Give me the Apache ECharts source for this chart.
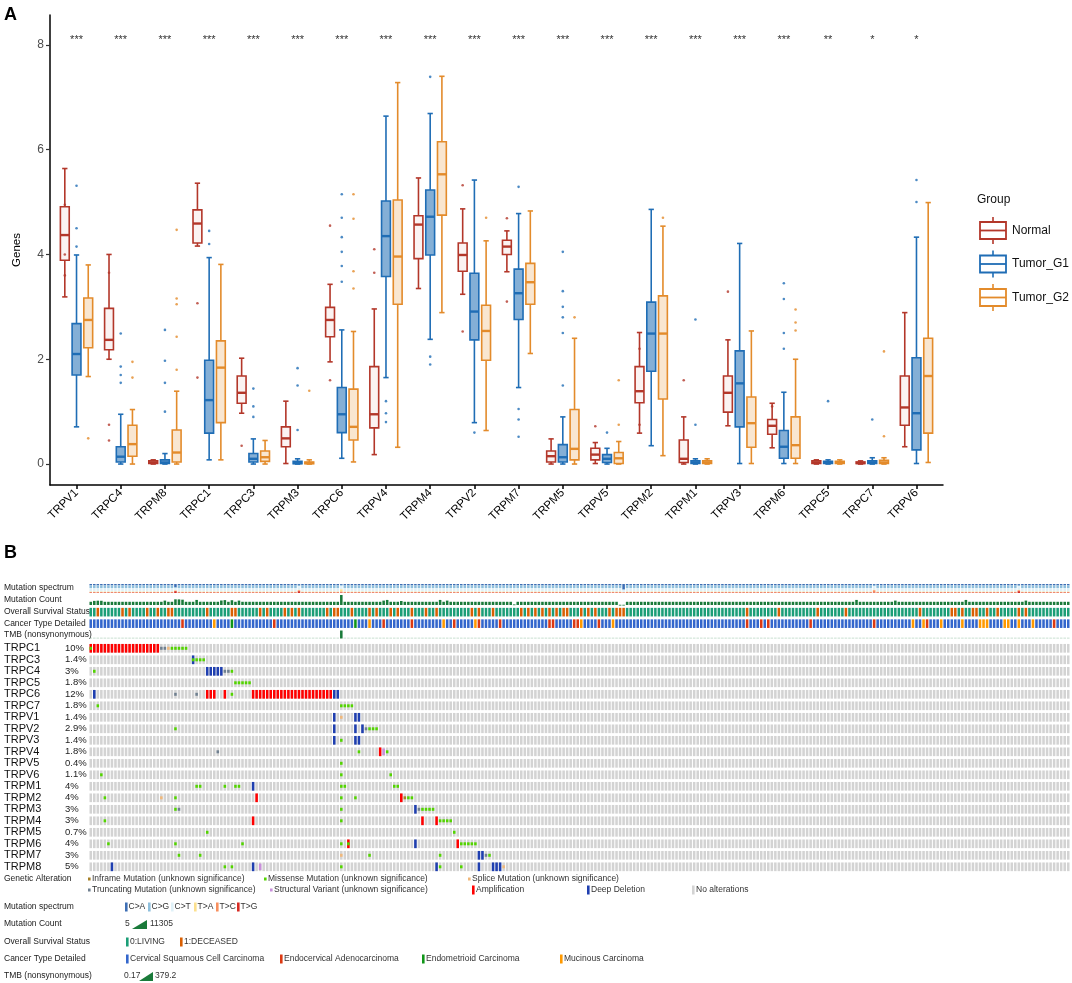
<!DOCTYPE html>
<html>
<head>
<meta charset="utf-8">
<title>TRP channel genes</title>
<script src="https://cdn.jsdelivr.net/npm/echarts@6.0.0/dist/echarts.min.js"></script>
<style>
  html, body { margin: 0; padding: 0; background: #fff; }
  #main { width: 1072px; height: 983px; }
</style>
</head>
<body>
<div id="main"></div>
<script>
// ---- panel A : expression boxes ----
var genes = ['TRPV1','TRPC4','TRPM8','TRPC1','TRPC3','TRPM3','TRPC6','TRPV4','TRPM4','TRPV2',
             'TRPM7','TRPM5','TRPV5','TRPM2','TRPM1','TRPV3','TRPM6','TRPC5','TRPC7','TRPV6'];
var groups = ['Normal', 'Tumor_G1', 'Tumor_G2'];
var yTicks = [0, 2, 4, 6, 8];
var sigLabels = ['***','***','***','***','***','***','***','***','***','***',
                 '***','***','***','***','***','***','***','**','*','*'];

// [min, Q1, median, Q3, max] per gene
var normalBox = [
  [3.19,3.89,4.37,4.91,5.64],[2.00,2.18,2.37,2.97,4.00],[0,0.01,0.03,0.06,0.08],[4.16,4.22,4.59,4.85,5.36],
  [0.97,1.16,1.36,1.68,2.02],[0.01,0.33,0.49,0.71,1.20],[1.95,2.43,2.75,2.99,3.43],[0.18,0.69,0.95,1.86,2.96],
  [3.35,3.92,4.57,4.74,5.46],[3.24,3.68,3.99,4.22,4.87],[3.67,4.00,4.15,4.27,4.45],[0,0.04,0.15,0.25,0.48],
  [0.01,0.08,0.18,0.30,0.41],[0.59,1.17,1.39,1.86,2.51],[0,0.03,0.10,0.46,0.90],[0.73,0.99,1.36,1.68,2.37],
  [0.31,0.57,0.73,0.85,1.16],[0,0.01,0.03,0.06,0.08],[0,0.01,0.02,0.04,0.06],[0.33,0.74,1.08,1.68,2.89]
];
var g1Box = [
  [0.71,1.70,2.10,2.68,3.99],[0,0.04,0.14,0.33,0.95],[0,0.01,0.03,0.08,0.20],[0.08,0.59,1.22,1.98,3.94],
  [0,0.04,0.10,0.20,0.48],[0,0.005,0.02,0.05,0.10],[0.11,0.60,0.95,1.46,2.56],[1.65,3.58,4.35,5.02,6.64],
  [2.38,3.99,4.72,5.23,6.69],[0.79,2.37,2.91,3.64,5.42],[1.46,2.76,3.26,3.72,4.78],[0,0.04,0.13,0.37,0.90],
  [0,0.03,0.10,0.18,0.30],[0.35,1.77,2.49,3.09,4.86],[0,0.01,0.03,0.06,0.10],[0.01,0.71,1.54,2.16,4.21],
  [0.01,0.11,0.33,0.64,1.37],[0,0.01,0.03,0.05,0.08],[0,0.01,0.03,0.06,0.12],[0.01,0.27,0.97,2.03,4.33]
];
var g2Box = [
  [1.67,2.22,2.75,3.17,3.80],[0,0.15,0.38,0.74,1.04],[0,0.04,0.22,0.65,1.39],[0.08,0.79,1.84,2.35,3.81],
  [0,0.05,0.13,0.25,0.45],[0,0.005,0.02,0.04,0.08],[0.04,0.46,0.71,1.43,2.53],[0.32,3.05,3.96,5.04,7.28],
  [2.89,4.75,5.53,6.15,7.40],[0.64,1.98,2.54,3.03,4.26],[2.11,3.05,3.47,3.83,4.83],[0,0.08,0.29,1.04,2.40],
  [0,0.01,0.11,0.22,0.43],[0.16,1.24,2.49,3.21,4.54],[0,0.01,0.03,0.06,0.10],[0.01,0.32,0.78,1.28,2.54],
  [0.01,0.11,0.36,0.90,2.00],[0,0.01,0.03,0.05,0.08],[0,0.01,0.03,0.07,0.12],[0.03,0.59,1.68,2.40,4.99]
];

// single points: [gene index, value]
var normalPts = [[0,4.95],[0,4.0],[0,3.6],[1,3.65],[1,0.75],[1,0.45],[3,3.07],[3,1.65],[4,0.35],[6,4.55],[6,1.6],
  [7,4.1],[7,3.65],[9,5.32],[9,2.53],[10,4.69],[10,3.1],[12,0.72],[13,2.2],[13,0.75],[14,1.6],[15,3.29],[16,1.1]];
var g1Pts = [[0,5.31],[0,4.5],[0,4.15],[1,2.49],[1,1.86],[1,1.7],[1,1.55],[2,2.56],[2,1.97],[2,1.55],[2,1.0],
  [3,4.45],[3,4.2],[4,1.44],[4,1.1],[4,0.9],[5,1.83],[5,1.5],[5,0.65],[6,5.15],[6,4.7],[6,4.33],[6,4.05],
  [6,3.78],[6,3.48],[7,0.97],[7,0.8],[7,1.2],[8,7.39],[8,2.05],[8,1.9],[9,0.6],[10,5.29],[10,0.52],[10,0.85],
  [10,1.05],[11,4.05],[11,3.3],[11,3.0],[11,2.8],[11,2.5],[11,1.5],[12,0.6],[14,2.76],[14,0.75],[16,3.45],
  [16,3.15],[16,2.5],[16,2.2],[17,1.2],[18,0.85],[19,5.42],[19,5.0]];
var g2Pts = [[0,0.49],[1,1.95],[1,1.65],[2,4.47],[2,3.16],[2,3.05],[2,2.43],[2,1.8],[5,1.4],[6,5.15],[6,4.68],
  [6,3.68],[6,3.35],[9,4.7],[11,2.8],[12,1.6],[12,0.75],[13,4.7],[16,2.95],[16,2.7],[16,2.55],[18,2.15],[18,0.53]];

// ---- panel B : oncoprint ----
var sampleCount = 278;
var oncoGenes = ['TRPC1','TRPC3','TRPC4','TRPC5','TRPC6','TRPC7','TRPV1','TRPV2','TRPV3','TRPV4',
                 'TRPV5','TRPV6','TRPM1','TRPM2','TRPM3','TRPM4','TRPM5','TRPM6','TRPM7','TRPM8'];
var oncoPct = ['10%','1.4%','3%','1.8%','12%','1.8%','1.4%','2.9%','1.4%','1.8%',
               '0.4%','1.1%','4%','4%','3%','3%','0.7%','4%','3%','5%'];
// [first sample, last sample, type]  A amp, D deep del, M missense, T truncating, S splice, I inframe, V struct. variant
var oncoAlt = [
  [[0,19,'A'],[0,0,'M'],[20,21,'T'],[22,22,'S'],[23,27,'M']],
  [[29,29,'D'],[29,29,'M'],[30,32,'M']],
  [[1,1,'M'],[33,37,'D'],[38,39,'T'],[40,40,'M']],
  [[41,45,'M']],
  [[1,1,'D'],[24,24,'T'],[30,30,'T'],[33,35,'A'],[38,38,'A'],[40,40,'M'],[46,68,'A'],[69,70,'D']],
  [[2,2,'M'],[71,74,'M']],
  [[69,69,'D'],[71,71,'S'],[75,76,'D']],
  [[24,24,'M'],[69,69,'D'],[75,75,'D'],[77,77,'D'],[78,78,'T'],[79,81,'M']],
  [[69,69,'D'],[71,71,'M'],[75,76,'D']],
  [[36,36,'T'],[76,76,'M'],[82,82,'A'],[83,83,'V'],[84,84,'M']],
  [[71,71,'M']],
  [[3,3,'M'],[71,71,'M'],[85,85,'M']],
  [[30,31,'M'],[38,38,'M'],[41,42,'M'],[46,46,'D'],[71,72,'M'],[86,87,'M']],
  [[4,4,'M'],[20,20,'S'],[24,24,'M'],[47,47,'A'],[71,71,'M'],[75,75,'M'],[88,88,'A'],[89,89,'I'],[90,91,'M']],
  [[24,24,'M'],[25,25,'T'],[71,71,'M'],[92,92,'D'],[93,93,'T'],[94,97,'M']],
  [[4,4,'M'],[46,46,'A'],[71,71,'M'],[94,94,'A'],[98,98,'A'],[99,102,'M']],
  [[33,33,'M'],[103,103,'M']],
  [[5,5,'M'],[24,24,'M'],[43,43,'M'],[71,71,'M'],[73,73,'A'],[73,73,'M'],[92,92,'D'],[104,104,'A'],[105,109,'M']],
  [[25,25,'M'],[31,31,'M'],[71,71,'S'],[79,79,'M'],[99,99,'M'],[110,111,'D'],[112,112,'T'],[113,113,'M']],
  [[6,6,'D'],[38,38,'M'],[40,40,'M'],[46,46,'D'],[48,48,'V'],[71,71,'M'],[98,98,'D'],[99,99,'M'],
   [105,105,'M'],[110,110,'D'],[114,116,'D'],[117,117,'S']]
];
var trackLabels = ['Mutation spectrum','Mutation Count','Overall Survival Status','Cancer Type Detailed','TMB (nonsynonymous)'];
var deceasedCols = [2,9,11,16,19,22,23,33,40,41,48,50,55,57,59,67,69,70,74,79,81,85,87,91,95,98,108,110,114,
  122,124,126,128,130,132,134,135,139,141,143,147,149,150,151,186,195,206,214,235,244,245,247,250,251,254,257,263,265];
var cancerTypes = ['Cervical Squamous Cell Carcinoma','Endocervical Adenocarcinoma','Endometrioid Carcinoma','Mucinous Carcinoma'];
// samples that are not squamous: [sample, cancer type index]
var cancerCols = [[26,1],[35,3],[40,2],[52,1],[75,2],[79,3],[83,1],[91,1],[100,3],[103,1],[109,3],[110,1],[116,1],
  [130,1],[131,1],[137,1],[138,1],[139,3],[144,1],[148,3],[186,1],[190,1],[192,1],[204,1],[222,1],[233,3],[236,3],
  [237,1],[241,3],[247,3],[252,3],[253,3],[254,3],[259,3],[260,3],[263,3],[267,3],[273,1]];
var mutCountDefault = 60;
var mutCountCols = [[1,120],[2,140],[3,130],[21,150],[24,400],[25,380],[26,300],[30,250],[37,160],[38,220],
  [40,200],[42,150],[71,11305],[83,150],[84,250],[88,110],[99,250],[101,150],[120,8],[150,6],[151,6],
  [217,250],[228,150],[248,250],[265,150]];
var tmbDefault = 1.2;
var tmbCols = [[71,379.2],[24,6],[25,6],[26,5],[30,4]];
var spectrumKeys = ['C>A','C>G','C>T','T>A','T>C','T>G'];
var spectrumDefault = [0.15,0.3,0.4,0.04,0.08,0.03];
var spectrumCols = [[24,[0.35,0.1,0.25,0.05,0.05,0.2]],[59,[0.1,0.15,0.4,0.05,0.1,0.2]],
  [71,[0.1,0.1,0.4,0.25,0.1,0.05]],[151,[0.6,0.1,0.2,0.03,0.05,0.02]],[222,[0.1,0.15,0.4,0.05,0.25,0.05]],
  [263,[0.1,0.15,0.4,0.05,0.1,0.2]]];

// ---- colours ----
var groupColors = ['#B3372A', '#1F6DB5', '#E38B2B'];
var groupFill = [0.06, 0.55, 0.22];
var groupOffset = [-0.265, 0, 0.265];
var altColors = {A:'#FF0000', D:'#1F3FB0', M:'#53D400', T:'#708090', S:'#F0B87B', I:'#A68028', V:'#C98FDB'};
var noAltColor = '#D3D3D3';
var osColors = ['#1B9E77', '#D95F02'];
var cancerColors = ['#3366CC', '#DC3912', '#109618', '#FF9900'];
var spectrumColors = ['#3D6EB4','#8EBFDC','#DFF1F8','#FCE08E','#F78F5E','#D62B23'];
var countColor = '#1A7A3A';
var FONT = 'Liberation Sans, Arial, sans-serif';

var chart = echarts.init(document.getElementById('main'));

function boxRender(k) {
  var color = groupColors[k], off = groupOffset[k];
  return function (params, api) {
    var x = api.value(0) + off;
    var pMin = api.coord([x, api.value(1)]);
    var pQ1 = api.coord([x, api.value(2)]);
    var pMed = api.coord([x, api.value(3)]);
    var pQ3 = api.coord([x, api.value(4)]);
    var pMax = api.coord([x, api.value(5)]);
    var bw = api.size([0.2, 0])[0];
    var cw = api.size([0.12, 0])[0];
    var cx = pMed[0];
    var ls = {stroke: color, lineWidth: 1.6, fill: null};
    return {type: 'group', children: [
      {type: 'line', shape: {x1: cx, y1: pMax[1], x2: cx, y2: pQ3[1]}, style: ls},
      {type: 'line', shape: {x1: cx, y1: pQ1[1], x2: cx, y2: pMin[1]}, style: ls},
      {type: 'line', shape: {x1: cx - cw / 2, y1: pMax[1], x2: cx + cw / 2, y2: pMax[1]}, style: ls},
      {type: 'line', shape: {x1: cx - cw / 2, y1: pMin[1], x2: cx + cw / 2, y2: pMin[1]}, style: ls},
      {type: 'rect', shape: {x: cx - bw / 2, y: pQ3[1], width: bw, height: Math.max(pQ1[1] - pQ3[1], 1.5)},
        style: {stroke: color, lineWidth: 1.6, fill: echarts.color.modifyAlpha(color, groupFill[k])}},
      {type: 'line', shape: {x1: cx - bw / 2, y1: pMed[1], x2: cx + bw / 2, y2: pMed[1]}, style: {stroke: color, lineWidth: 2.4}}
    ]};
  };
}

function withIndex(rows) {
  return rows.map(function (s, i) { return [i].concat(s); });
}

var boxSets = [normalBox, g1Box, g2Box];
var ptSets = [normalPts, g1Pts, g2Pts];
var series = [];
groups.forEach(function (g, k) {
  series.push({
    name: g, type: 'custom', xAxisIndex: 0, yAxisIndex: 0,
    data: withIndex(boxSets[k]), renderItem: boxRender(k), z: 3
  });
  series.push({
    name: g + ' points', type: 'scatter', xAxisIndex: 0, yAxisIndex: 0, symbolSize: 2.6,
    itemStyle: {color: groupColors[k]}, z: 4,
    data: ptSets[k].map(function (p) { return [p[0] + groupOffset[k], p[1]]; })
  });
});
series.push({
  name: 'significance', type: 'custom', xAxisIndex: 0, yAxisIndex: 0,
  data: sigLabels.map(function (s, i) { return [i, 8.1]; }),
  renderItem: function (params, api) {
    var p = api.coord([api.value(0), api.value(1)]);
    return {type: 'text', x: p[0], y: p[1],
      style: {text: sigLabels[params.dataIndex], align: 'center', verticalAlign: 'middle', fill: '#333', font: '11px ' + FONT}};
  }
});

// oncoprint helpers
var cellH = 8.7;
function cellRect(api, col, yTop, h, color) {
  var p = api.coord([col, 0]);
  var pitch = api.size([1, 0])[0];
  var w = pitch * 0.72;
  return {type: 'rect', shape: {x: p[0] + (pitch - w) / 2, y: yTop, width: w, height: h}, style: {fill: color}};
}

var cols = [];
for (var c = 0; c < sampleCount; c++) cols.push(c);

function lookup(list, col, dflt) {
  for (var i = 0; i < list.length; i++) if (list[i][0] === col) return list[i][1];
  return dflt;
}

// spectrum
series.push({
  type: 'custom', xAxisIndex: 1, yAxisIndex: 1, silent: true,
  data: cols.map(function (c) { return [c].concat(lookup(spectrumCols, c, spectrumDefault)); }),
  renderItem: function (params, api) {
    var col = api.value(0), cum = 0, kids = [];
    for (var j = 0; j < spectrumKeys.length; j++) {
      var f = api.value(j + 1);
      var y0 = api.coord([col, cum])[1], y1 = api.coord([col, cum + f])[1];
      kids.push(cellRect(api, col, y0, y1 - y0, spectrumColors[j]));
      cum += f;
    }
    return {type: 'group', children: kids};
  }
});
// mutation count (log axis)
series.push({
  type: 'custom', xAxisIndex: 2, yAxisIndex: 2, silent: true,
  data: cols.map(function (c) { return [c, lookup(mutCountCols, c, mutCountDefault)]; }),
  renderItem: function (params, api) {
    var col = api.value(0);
    var top = api.coord([col, api.value(1)])[1], base = api.coord([col, 5])[1];
    return cellRect(api, col, top, Math.max(base - top, 0.8), countColor);
  }
});
// survival + cancer type
var clinData = [];
cols.forEach(function (c) {
  clinData.push([c, 0, deceasedCols.indexOf(c) >= 0 ? 1 : 0]);
  clinData.push([c, 1, lookup(cancerCols, c, 0)]);
});
series.push({
  type: 'custom', xAxisIndex: 3, yAxisIndex: 3, silent: true, data: clinData,
  renderItem: function (params, api) {
    var d = clinData[params.dataIndex];
    var y = api.coord([d[0], d[1]])[1];
    var color = d[1] === 0 ? osColors[d[2]] : cancerColors[d[2]];
    return cellRect(api, d[0], y - 4.3, 8.6, color);
  }
});
// TMB
series.push({
  type: 'custom', xAxisIndex: 4, yAxisIndex: 4, silent: true,
  data: cols.map(function (c) { return [c, lookup(tmbCols, c, tmbDefault)]; }),
  renderItem: function (params, api) {
    var col = api.value(0);
    var top = api.coord([col, api.value(1)])[1], base = api.coord([col, 0])[1];
    var h = base - top;
    var el = cellRect(api, col, Math.min(top, base - 0.8), Math.max(h, 0.8), countColor);
    if (h < 1) el.style.opacity = 0.3;
    return el;
  }
});
// gene rows: grey background, then alterations
series.push({
  type: 'custom', xAxisIndex: 5, yAxisIndex: 5, silent: true,
  data: oncoGenes.map(function (g, r) { return [0, r]; }),
  renderItem: function (params, api) {
    var r = api.value(1), kids = [];
    var y = api.coord([0, r])[1];
    for (var c = 0; c < sampleCount; c++) kids.push(cellRect(api, c, y - cellH / 2, cellH, noAltColor));
    return {type: 'group', children: kids};
  }
});
var altData = [];
oncoAlt.forEach(function (segs, r) {
  segs.forEach(function (s) {
    for (var c = s[0]; c <= s[1]; c++) altData.push([c, r, s[2]]);
  });
});
series.push({
  type: 'custom', xAxisIndex: 5, yAxisIndex: 5, silent: true, data: altData,
  renderItem: function (params, api) {
    var d = altData[params.dataIndex];
    var y = api.coord([d[0], d[1]])[1];
    var code = d[2];
    if (code === 'A' || code === 'D') return cellRect(api, d[0], y - cellH / 2, cellH, altColors[code]);
    if (code === 'V') return cellRect(api, d[0], y - 3.2, 6.4, altColors[code]);
    return cellRect(api, d[0], y - 1.5, 3, altColors[code]);
  }
});

// ---- graphic: panel letters, legends, track labels ----
var graphic = [];
function txt(x, y, s, size, color, weight) {
  graphic.push({type: 'text', x: x, y: y, silent: true,
    style: {text: s, fill: color || '#222', font: (weight || 'normal') + ' ' + size + 'px ' + FONT, verticalAlign: 'middle'}});
}
function box(x, y, w, h, color) {
  graphic.push({type: 'rect', silent: true, shape: {x: x, y: y, width: w, height: h}, style: {fill: color}});
}
txt(4, 15, 'A', 18, '#000', 'bold');
txt(4, 553, 'B', 18, '#000', 'bold');

// group legend (panel A)
txt(977, 200, 'Group', 12, '#111');
groups.forEach(function (g, k) {
  var cy = 230.5 + k * 33.5, col = groupColors[k];
  graphic.push({type: 'line', silent: true, shape: {x1: 993, y1: cy - 13.5, x2: 993, y2: cy + 13.5}, style: {stroke: col, lineWidth: 1.6}});
  graphic.push({type: 'rect', silent: true, shape: {x: 980, y: cy - 8.5, width: 26, height: 17}, style: {fill: '#fff', stroke: col, lineWidth: 1.8}});
  graphic.push({type: 'line', silent: true, shape: {x1: 980, y1: cy, x2: 1006, y2: cy}, style: {stroke: col, lineWidth: 1.8}});
  txt(1012, cy, g, 12, '#111');
});

// track labels
var trackY = [588, 600, 611.8, 623.3, 634.7];
trackLabels.forEach(function (s, i) { txt(4, trackY[i], s, 8.5, '#222'); });

// genetic alteration legend
var altLegend = [
  ['Inframe Mutation (unknown significance)', 'I', 88, 879], ['Missense Mutation (unknown significance)', 'M', 264, 879],
  ['Splice Mutation (unknown significance)', 'S', 468, 879], ['Truncating Mutation (unknown significance)', 'T', 88, 890],
  ['Structural Variant (unknown significance)', 'V', 270, 890], ['Amplification', 'A', 472, 890],
  ['Deep Deletion', 'D', 587, 890], ['No alterations', 'N', 692, 890]
];
txt(4, 879, 'Genetic Alteration', 8.5);
altLegend.forEach(function (a) {
  var x = a[2], y = a[3], code = a[1];
  if (code === 'A' || code === 'D') box(x, y - 4.5, 2.6, 9, altColors[code]);
  else if (code === 'N') box(x, y - 4.5, 2.6, 9, noAltColor);
  else {
    box(x, y - 4.5, 2.6, 9, '#ffffff');
    box(x, y - 1.5, 2.6, 3, altColors[code]);
  }
  txt(x + 4, y, a[0], 8.5, '#333');
});

txt(4, 907, 'Mutation spectrum', 8.5);
var specX = [125, 148, 171, 194, 216, 237];
spectrumKeys.forEach(function (s, i) {
  box(specX[i], 902.5, 2.6, 9, spectrumColors[i]);
  txt(specX[i] + 3.5, 907, s, 8.5, '#333');
});

txt(4, 924, 'Mutation Count', 8.5);
txt(125, 924, '5', 8.5, '#333');
graphic.push({type: 'polygon', silent: true, shape: {points: [[132, 929], [147, 929], [147, 920]]}, style: {fill: countColor}});
txt(150, 924, '11305', 8.5, '#333');

txt(4, 942, 'Overall Survival Status', 8.5);
var osLabels = ['0:LIVING', '1:DECEASED'];
var osX = [126, 180];
osLabels.forEach(function (s, i) {
  box(osX[i], 937.5, 2.6, 9, osColors[i]);
  txt(osX[i] + 4, 942, s, 8.5, '#333');
});

txt(4, 959, 'Cancer Type Detailed', 8.5);
var ctX = [126, 280, 422, 560];
cancerTypes.forEach(function (s, i) {
  box(ctX[i], 954.5, 2.6, 9, cancerColors[i]);
  txt(ctX[i] + 4, 959, s, 8.5, '#333');
});

txt(4, 976, 'TMB (nonsynonymous)', 8.5);
txt(124, 976, '0.17', 8.5, '#333');
graphic.push({type: 'polygon', silent: true, shape: {points: [[139, 981], [153, 981], [153, 972]]}, style: {fill: countColor}});
txt(155, 976, '379.2', 8.5, '#333');

function hiddenX(k) { return {gridIndex: k, type: 'value', min: 0, max: sampleCount, show: false}; }

var option = {
  backgroundColor: '#fff',
  animation: false,
  textStyle: {fontFamily: FONT},
  grid: [
    {left: 50, top: 15, width: 893, height: 470},
    {left: 89, top: 584, width: 981, height: 9},
    {left: 89, top: 595, width: 981, height: 10},
    {left: 89, top: 606.4, width: 981, height: 23},
    {left: 89, top: 630.5, width: 981, height: 8},
    {left: 89, top: 642.55, width: 981, height: 230}
  ],
  xAxis: [
    {
      gridIndex: 0, type: 'value', min: -0.6, max: 19.6,
      axisLine: {onZero: false, lineStyle: {color: '#000', width: 1.5}},
      axisTick: {customValues: genes.map(function (g, i) { return i; }), length: 4, lineStyle: {color: '#000', width: 1.5}},
      axisLabel: {customValues: genes.map(function (g, i) { return i; }),
        formatter: function (v) { return genes[Math.round(v)]; },
        rotate: 45, fontSize: 11.5, color: '#000', margin: 6},
      splitLine: {show: false}
    },
    hiddenX(1), hiddenX(2), hiddenX(3), hiddenX(4), hiddenX(5)
  ],
  yAxis: [
    {
      gridIndex: 0, type: 'value', min: -0.4, max: 8.57,
      name: 'Genes', nameLocation: 'middle', nameGap: 27, nameTextStyle: {color: '#000', fontSize: 11.5},
      axisLine: {show: true, onZero: false, lineStyle: {color: '#000', width: 1.5}},
      axisTick: {show: true, customValues: yTicks, length: 4, lineStyle: {color: '#333', width: 1.2}},
      axisLabel: {customValues: yTicks, color: '#4D4D4D', fontSize: 12, margin: 6},
      splitLine: {show: false}
    },
    {gridIndex: 1, type: 'value', min: 0, max: 1, inverse: true, show: false},
    {gridIndex: 2, type: 'log', min: 5, max: 11305, show: false},
    {gridIndex: 3, type: 'category', inverse: true, data: ['Overall Survival Status', 'Cancer Type Detailed'], show: false},
    {gridIndex: 4, type: 'value', min: 0, max: 379.2, show: false},
    {
      gridIndex: 5, type: 'category', inverse: true, data: oncoGenes,
      axisLine: {show: false}, axisTick: {show: false}, splitLine: {show: false},
      axisLabel: {
        interval: 0, align: 'left', margin: 85,
        formatter: function (v, i) { return '{g|' + v + '}{p|' + oncoPct[i] + '}'; },
        rich: {g: {fontSize: 11, width: 61, color: '#111'}, p: {fontSize: 9.5, color: '#222'}}
      }
    }
  ],
  graphic: graphic,
  series: series
};
chart.setOption(option);
</script>
</body>
</html>
